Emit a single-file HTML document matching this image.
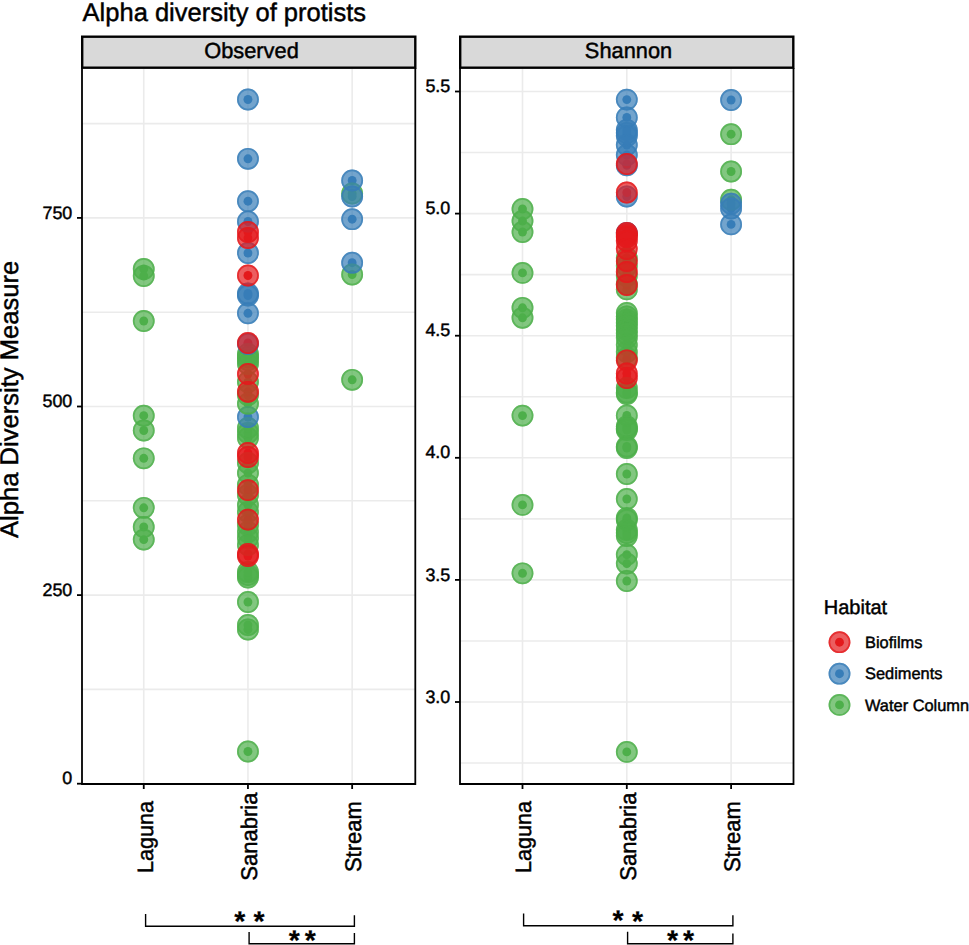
<!DOCTYPE html>
<html><head><meta charset="utf-8"><style>
html,body{margin:0;padding:0;background:#fff;}
svg{display:block;}
text{font-family:"Liberation Sans",sans-serif;fill:#000;stroke:#000;stroke-width:0.45px;text-rendering:geometricPrecision;}
.gm{stroke:#EBEBEB;stroke-width:1.6;}
.gM{stroke:#EBEBEB;stroke-width:1.6;}
.yt{font-size:17.9px;text-anchor:end;}
.xt{font-size:22.0px;text-anchor:middle;}
.br{fill:none;stroke:#000;stroke-width:1.4;}
.st{font-size:28.5px;text-anchor:middle;font-weight:bold;stroke-width:0.2px;}
.lt{font-size:20px;}
.ll{font-size:16.4px;}
.pts circle,.pc{fill-opacity:0.7;}
.rg{fill:none;stroke-opacity:0.7;stroke-width:1.7;}
</style></head><body>
<svg width="969" height="945" viewBox="0 0 969 945">
<rect width="969" height="945" fill="#fff"/>
<text x="82.6" y="20.9" style="font-size:25.5px">Alpha diversity of protists</text>
<text transform="translate(17.9,399.4) rotate(-90)" style="font-size:25.6px;text-anchor:middle">Alpha Diversity Measure</text>
<g><line x1="82" y1="689.40" x2="415.3" y2="689.40" class="gm"/><line x1="82" y1="500.80" x2="415.3" y2="500.80" class="gm"/><line x1="82" y1="312.20" x2="415.3" y2="312.20" class="gm"/><line x1="82" y1="123.60" x2="415.3" y2="123.60" class="gm"/><line x1="82" y1="783.70" x2="415.3" y2="783.70" class="gM"/><line x1="82" y1="595.10" x2="415.3" y2="595.10" class="gM"/><line x1="82" y1="406.50" x2="415.3" y2="406.50" class="gM"/><line x1="82" y1="217.90" x2="415.3" y2="217.90" class="gM"/><line x1="460" y1="763.05" x2="793.5" y2="763.05" class="gm"/><line x1="460" y1="640.95" x2="793.5" y2="640.95" class="gm"/><line x1="460" y1="518.85" x2="793.5" y2="518.85" class="gm"/><line x1="460" y1="396.75" x2="793.5" y2="396.75" class="gm"/><line x1="460" y1="274.65" x2="793.5" y2="274.65" class="gm"/><line x1="460" y1="152.55" x2="793.5" y2="152.55" class="gm"/><line x1="460" y1="702.00" x2="793.5" y2="702.00" class="gM"/><line x1="460" y1="579.90" x2="793.5" y2="579.90" class="gM"/><line x1="460" y1="457.80" x2="793.5" y2="457.80" class="gM"/><line x1="460" y1="335.70" x2="793.5" y2="335.70" class="gM"/><line x1="460" y1="213.60" x2="793.5" y2="213.60" class="gM"/><line x1="460" y1="91.50" x2="793.5" y2="91.50" class="gM"/><line x1="143.75" y1="68.8" x2="143.75" y2="784.0" class="gM"/><line x1="247.95" y1="68.8" x2="247.95" y2="784.0" class="gM"/><line x1="352.15" y1="68.8" x2="352.15" y2="784.0" class="gM"/><line x1="522.5" y1="68.8" x2="522.5" y2="784.0" class="gM"/><line x1="626.8" y1="68.8" x2="626.8" y2="784.0" class="gM"/><line x1="731.1" y1="68.8" x2="731.1" y2="784.0" class="gM"/></g>
<g><circle cx="143.75" cy="269.0" r="4.45" fill="#4DAF4A"/><circle cx="143.75" cy="276.0" r="4.45" fill="#4DAF4A"/><circle cx="143.75" cy="321.0" r="4.45" fill="#4DAF4A"/><circle cx="143.75" cy="415.7" r="4.45" fill="#4DAF4A"/><circle cx="143.75" cy="430.5" r="4.45" fill="#4DAF4A"/><circle cx="143.75" cy="458.3" r="4.45" fill="#4DAF4A"/><circle cx="143.75" cy="507.8" r="4.45" fill="#4DAF4A"/><circle cx="143.75" cy="527.0" r="4.45" fill="#4DAF4A"/><circle cx="143.75" cy="539.6" r="4.45" fill="#4DAF4A"/><circle cx="247.95" cy="751.5" r="4.45" fill="#4DAF4A"/><circle cx="247.95" cy="629.5" r="4.45" fill="#4DAF4A"/><circle cx="247.95" cy="625.0" r="4.45" fill="#4DAF4A"/><circle cx="247.95" cy="602.0" r="4.45" fill="#4DAF4A"/><circle cx="247.95" cy="577.5" r="4.45" fill="#4DAF4A"/><circle cx="247.95" cy="575.0" r="4.45" fill="#4DAF4A"/><circle cx="247.95" cy="572.0" r="4.45" fill="#4DAF4A"/><circle cx="247.95" cy="545.0" r="4.45" fill="#4DAF4A"/><circle cx="247.95" cy="538.0" r="4.45" fill="#4DAF4A"/><circle cx="247.95" cy="532.0" r="4.45" fill="#4DAF4A"/><circle cx="247.95" cy="525.0" r="4.45" fill="#4DAF4A"/><circle cx="247.95" cy="512.0" r="4.45" fill="#4DAF4A"/><circle cx="247.95" cy="505.0" r="4.45" fill="#4DAF4A"/><circle cx="247.95" cy="495.0" r="4.45" fill="#4DAF4A"/><circle cx="247.95" cy="484.8" r="4.45" fill="#4DAF4A"/><circle cx="247.95" cy="473.0" r="4.45" fill="#4DAF4A"/><circle cx="247.95" cy="463.0" r="4.45" fill="#4DAF4A"/><circle cx="247.95" cy="438.0" r="4.45" fill="#4DAF4A"/><circle cx="247.95" cy="433.0" r="4.45" fill="#4DAF4A"/><circle cx="247.95" cy="428.0" r="4.45" fill="#4DAF4A"/><circle cx="247.95" cy="395.0" r="4.45" fill="#4DAF4A"/><circle cx="247.95" cy="382.0" r="4.45" fill="#4DAF4A"/><circle cx="247.95" cy="364.0" r="4.45" fill="#4DAF4A"/><circle cx="247.95" cy="360.0" r="4.45" fill="#4DAF4A"/><circle cx="247.95" cy="357.0" r="4.45" fill="#4DAF4A"/><circle cx="247.95" cy="354.0" r="4.45" fill="#4DAF4A"/><circle cx="247.95" cy="99.5" r="4.45" fill="#377EB8"/><circle cx="247.95" cy="158.8" r="4.45" fill="#377EB8"/><circle cx="247.95" cy="201.2" r="4.45" fill="#377EB8"/><circle cx="247.95" cy="221.5" r="4.45" fill="#377EB8"/><circle cx="247.95" cy="253.0" r="4.45" fill="#377EB8"/><circle cx="247.95" cy="293.5" r="4.45" fill="#377EB8"/><circle cx="247.95" cy="295.5" r="4.45" fill="#377EB8"/><circle cx="247.95" cy="313.3" r="4.45" fill="#377EB8"/><circle cx="247.95" cy="344.0" r="4.45" fill="#377EB8"/><circle cx="247.95" cy="417.0" r="4.45" fill="#377EB8"/><circle cx="247.95" cy="403.7" r="4.45" fill="#4DAF4A"/><circle cx="247.95" cy="232.0" r="4.45" fill="#E41A1C"/><circle cx="247.95" cy="238.0" r="4.45" fill="#E41A1C"/><circle cx="247.95" cy="275.5" r="4.45" fill="#E41A1C"/><circle cx="247.95" cy="343.0" r="4.45" fill="#E41A1C"/><circle cx="247.95" cy="374.0" r="4.45" fill="#E41A1C"/><circle cx="247.95" cy="391.8" r="4.45" fill="#E41A1C"/><circle cx="247.95" cy="453.0" r="4.45" fill="#E41A1C"/><circle cx="247.95" cy="457.0" r="4.45" fill="#E41A1C"/><circle cx="247.95" cy="490.1" r="4.45" fill="#E41A1C"/><circle cx="247.95" cy="519.6" r="4.45" fill="#E41A1C"/><circle cx="247.95" cy="554.0" r="4.45" fill="#E41A1C"/><circle cx="247.95" cy="556.0" r="4.45" fill="#E41A1C"/><circle cx="352.15" cy="193.5" r="4.45" fill="#4DAF4A"/><circle cx="352.15" cy="274.5" r="4.45" fill="#4DAF4A"/><circle cx="352.15" cy="379.8" r="4.45" fill="#4DAF4A"/><circle cx="352.15" cy="180.5" r="4.45" fill="#377EB8"/><circle cx="352.15" cy="196.5" r="4.45" fill="#377EB8"/><circle cx="352.15" cy="219.2" r="4.45" fill="#377EB8"/><circle cx="352.15" cy="262.7" r="4.45" fill="#377EB8"/><circle cx="522.5" cy="209.0" r="4.45" fill="#4DAF4A"/><circle cx="522.5" cy="221.0" r="4.45" fill="#4DAF4A"/><circle cx="522.5" cy="232.0" r="4.45" fill="#4DAF4A"/><circle cx="522.5" cy="272.9" r="4.45" fill="#4DAF4A"/><circle cx="522.5" cy="307.8" r="4.45" fill="#4DAF4A"/><circle cx="522.5" cy="317.8" r="4.45" fill="#4DAF4A"/><circle cx="522.5" cy="415.6" r="4.45" fill="#4DAF4A"/><circle cx="522.5" cy="504.9" r="4.45" fill="#4DAF4A"/><circle cx="522.5" cy="573.3" r="4.45" fill="#4DAF4A"/><circle cx="626.8" cy="258.0" r="4.45" fill="#4DAF4A"/><circle cx="626.8" cy="266.0" r="4.45" fill="#4DAF4A"/><circle cx="626.8" cy="276.0" r="4.45" fill="#4DAF4A"/><circle cx="626.8" cy="284.0" r="4.45" fill="#4DAF4A"/><circle cx="626.8" cy="289.4" r="4.45" fill="#4DAF4A"/><circle cx="626.8" cy="313.0" r="4.45" fill="#4DAF4A"/><circle cx="626.8" cy="316.5" r="4.45" fill="#4DAF4A"/><circle cx="626.8" cy="319.6" r="4.45" fill="#4DAF4A"/><circle cx="626.8" cy="323.0" r="4.45" fill="#4DAF4A"/><circle cx="626.8" cy="326.0" r="4.45" fill="#4DAF4A"/><circle cx="626.8" cy="330.0" r="4.45" fill="#4DAF4A"/><circle cx="626.8" cy="333.7" r="4.45" fill="#4DAF4A"/><circle cx="626.8" cy="338.0" r="4.45" fill="#4DAF4A"/><circle cx="626.8" cy="345.0" r="4.45" fill="#4DAF4A"/><circle cx="626.8" cy="352.0" r="4.45" fill="#4DAF4A"/><circle cx="626.8" cy="358.0" r="4.45" fill="#4DAF4A"/><circle cx="626.8" cy="388.0" r="4.45" fill="#4DAF4A"/><circle cx="626.8" cy="392.5" r="4.45" fill="#4DAF4A"/><circle cx="626.8" cy="394.0" r="4.45" fill="#4DAF4A"/><circle cx="626.8" cy="415.4" r="4.45" fill="#4DAF4A"/><circle cx="626.8" cy="426.5" r="4.45" fill="#4DAF4A"/><circle cx="626.8" cy="428.5" r="4.45" fill="#4DAF4A"/><circle cx="626.8" cy="430.0" r="4.45" fill="#4DAF4A"/><circle cx="626.8" cy="446.5" r="4.45" fill="#4DAF4A"/><circle cx="626.8" cy="448.0" r="4.45" fill="#4DAF4A"/><circle cx="626.8" cy="474.0" r="4.45" fill="#4DAF4A"/><circle cx="626.8" cy="499.0" r="4.45" fill="#4DAF4A"/><circle cx="626.8" cy="518.0" r="4.45" fill="#4DAF4A"/><circle cx="626.8" cy="520.0" r="4.45" fill="#4DAF4A"/><circle cx="626.8" cy="530.0" r="4.45" fill="#4DAF4A"/><circle cx="626.8" cy="533.0" r="4.45" fill="#4DAF4A"/><circle cx="626.8" cy="536.0" r="4.45" fill="#4DAF4A"/><circle cx="626.8" cy="554.7" r="4.45" fill="#4DAF4A"/><circle cx="626.8" cy="563.6" r="4.45" fill="#4DAF4A"/><circle cx="626.8" cy="581.0" r="4.45" fill="#4DAF4A"/><circle cx="626.8" cy="751.9" r="4.45" fill="#4DAF4A"/><circle cx="626.8" cy="99.6" r="4.45" fill="#377EB8"/><circle cx="626.8" cy="117.4" r="4.45" fill="#377EB8"/><circle cx="626.8" cy="130.0" r="4.45" fill="#377EB8"/><circle cx="626.8" cy="133.0" r="4.45" fill="#377EB8"/><circle cx="626.8" cy="136.0" r="4.45" fill="#377EB8"/><circle cx="626.8" cy="145.0" r="4.45" fill="#377EB8"/><circle cx="626.8" cy="155.0" r="4.45" fill="#377EB8"/><circle cx="626.8" cy="165.4" r="4.45" fill="#377EB8"/><circle cx="626.8" cy="196.5" r="4.45" fill="#377EB8"/><circle cx="626.8" cy="233.0" r="4.45" fill="#377EB8"/><circle cx="626.8" cy="164.0" r="4.45" fill="#E41A1C"/><circle cx="626.8" cy="192.5" r="4.45" fill="#E41A1C"/><circle cx="626.8" cy="233.0" r="4.45" fill="#E41A1C"/><circle cx="626.8" cy="235.0" r="4.45" fill="#E41A1C"/><circle cx="626.8" cy="237.0" r="4.45" fill="#E41A1C"/><circle cx="626.8" cy="241.0" r="4.45" fill="#E41A1C"/><circle cx="626.8" cy="249.0" r="4.45" fill="#E41A1C"/><circle cx="626.8" cy="261.0" r="4.45" fill="#E41A1C"/><circle cx="626.8" cy="272.0" r="4.45" fill="#E41A1C"/><circle cx="626.8" cy="285.0" r="4.45" fill="#E41A1C"/><circle cx="626.8" cy="360.3" r="4.45" fill="#E41A1C"/><circle cx="626.8" cy="373.5" r="4.45" fill="#E41A1C"/><circle cx="626.8" cy="378.0" r="4.45" fill="#E41A1C"/><circle cx="731.1" cy="134.2" r="4.45" fill="#4DAF4A"/><circle cx="731.1" cy="171.5" r="4.45" fill="#4DAF4A"/><circle cx="731.1" cy="199.7" r="4.45" fill="#4DAF4A"/><circle cx="731.1" cy="100.0" r="4.45" fill="#377EB8"/><circle cx="731.1" cy="203.7" r="4.45" fill="#377EB8"/><circle cx="731.1" cy="208.5" r="4.45" fill="#377EB8"/><circle cx="731.1" cy="224.4" r="4.45" fill="#377EB8"/></g>
<g class="pts"><circle cx="143.75" cy="269.0" r="10.9" fill="#4DAF4A"/><circle cx="143.75" cy="269.0" r="10.05" stroke="#4DAF4A" class="rg"/><circle cx="143.75" cy="276.0" r="10.9" fill="#4DAF4A"/><circle cx="143.75" cy="276.0" r="10.05" stroke="#4DAF4A" class="rg"/><circle cx="143.75" cy="321.0" r="10.9" fill="#4DAF4A"/><circle cx="143.75" cy="321.0" r="10.05" stroke="#4DAF4A" class="rg"/><circle cx="143.75" cy="415.7" r="10.9" fill="#4DAF4A"/><circle cx="143.75" cy="415.7" r="10.05" stroke="#4DAF4A" class="rg"/><circle cx="143.75" cy="430.5" r="10.9" fill="#4DAF4A"/><circle cx="143.75" cy="430.5" r="10.05" stroke="#4DAF4A" class="rg"/><circle cx="143.75" cy="458.3" r="10.9" fill="#4DAF4A"/><circle cx="143.75" cy="458.3" r="10.05" stroke="#4DAF4A" class="rg"/><circle cx="143.75" cy="507.8" r="10.9" fill="#4DAF4A"/><circle cx="143.75" cy="507.8" r="10.05" stroke="#4DAF4A" class="rg"/><circle cx="143.75" cy="527.0" r="10.9" fill="#4DAF4A"/><circle cx="143.75" cy="527.0" r="10.05" stroke="#4DAF4A" class="rg"/><circle cx="143.75" cy="539.6" r="10.9" fill="#4DAF4A"/><circle cx="143.75" cy="539.6" r="10.05" stroke="#4DAF4A" class="rg"/><circle cx="247.95" cy="751.5" r="10.9" fill="#4DAF4A"/><circle cx="247.95" cy="751.5" r="10.05" stroke="#4DAF4A" class="rg"/><circle cx="247.95" cy="629.5" r="10.9" fill="#4DAF4A"/><circle cx="247.95" cy="629.5" r="10.05" stroke="#4DAF4A" class="rg"/><circle cx="247.95" cy="625.0" r="10.9" fill="#4DAF4A"/><circle cx="247.95" cy="625.0" r="10.05" stroke="#4DAF4A" class="rg"/><circle cx="247.95" cy="602.0" r="10.9" fill="#4DAF4A"/><circle cx="247.95" cy="602.0" r="10.05" stroke="#4DAF4A" class="rg"/><circle cx="247.95" cy="577.5" r="10.9" fill="#4DAF4A"/><circle cx="247.95" cy="577.5" r="10.05" stroke="#4DAF4A" class="rg"/><circle cx="247.95" cy="575.0" r="10.9" fill="#4DAF4A"/><circle cx="247.95" cy="575.0" r="10.05" stroke="#4DAF4A" class="rg"/><circle cx="247.95" cy="572.0" r="10.9" fill="#4DAF4A"/><circle cx="247.95" cy="572.0" r="10.05" stroke="#4DAF4A" class="rg"/><circle cx="247.95" cy="545.0" r="10.9" fill="#4DAF4A"/><circle cx="247.95" cy="545.0" r="10.05" stroke="#4DAF4A" class="rg"/><circle cx="247.95" cy="538.0" r="10.9" fill="#4DAF4A"/><circle cx="247.95" cy="538.0" r="10.05" stroke="#4DAF4A" class="rg"/><circle cx="247.95" cy="532.0" r="10.9" fill="#4DAF4A"/><circle cx="247.95" cy="532.0" r="10.05" stroke="#4DAF4A" class="rg"/><circle cx="247.95" cy="525.0" r="10.9" fill="#4DAF4A"/><circle cx="247.95" cy="525.0" r="10.05" stroke="#4DAF4A" class="rg"/><circle cx="247.95" cy="512.0" r="10.9" fill="#4DAF4A"/><circle cx="247.95" cy="512.0" r="10.05" stroke="#4DAF4A" class="rg"/><circle cx="247.95" cy="505.0" r="10.9" fill="#4DAF4A"/><circle cx="247.95" cy="505.0" r="10.05" stroke="#4DAF4A" class="rg"/><circle cx="247.95" cy="495.0" r="10.9" fill="#4DAF4A"/><circle cx="247.95" cy="495.0" r="10.05" stroke="#4DAF4A" class="rg"/><circle cx="247.95" cy="484.8" r="10.9" fill="#4DAF4A"/><circle cx="247.95" cy="484.8" r="10.05" stroke="#4DAF4A" class="rg"/><circle cx="247.95" cy="473.0" r="10.9" fill="#4DAF4A"/><circle cx="247.95" cy="473.0" r="10.05" stroke="#4DAF4A" class="rg"/><circle cx="247.95" cy="463.0" r="10.9" fill="#4DAF4A"/><circle cx="247.95" cy="463.0" r="10.05" stroke="#4DAF4A" class="rg"/><circle cx="247.95" cy="438.0" r="10.9" fill="#4DAF4A"/><circle cx="247.95" cy="438.0" r="10.05" stroke="#4DAF4A" class="rg"/><circle cx="247.95" cy="433.0" r="10.9" fill="#4DAF4A"/><circle cx="247.95" cy="433.0" r="10.05" stroke="#4DAF4A" class="rg"/><circle cx="247.95" cy="428.0" r="10.9" fill="#4DAF4A"/><circle cx="247.95" cy="428.0" r="10.05" stroke="#4DAF4A" class="rg"/><circle cx="247.95" cy="395.0" r="10.9" fill="#4DAF4A"/><circle cx="247.95" cy="395.0" r="10.05" stroke="#4DAF4A" class="rg"/><circle cx="247.95" cy="382.0" r="10.9" fill="#4DAF4A"/><circle cx="247.95" cy="382.0" r="10.05" stroke="#4DAF4A" class="rg"/><circle cx="247.95" cy="364.0" r="10.9" fill="#4DAF4A"/><circle cx="247.95" cy="364.0" r="10.05" stroke="#4DAF4A" class="rg"/><circle cx="247.95" cy="360.0" r="10.9" fill="#4DAF4A"/><circle cx="247.95" cy="360.0" r="10.05" stroke="#4DAF4A" class="rg"/><circle cx="247.95" cy="357.0" r="10.9" fill="#4DAF4A"/><circle cx="247.95" cy="357.0" r="10.05" stroke="#4DAF4A" class="rg"/><circle cx="247.95" cy="354.0" r="10.9" fill="#4DAF4A"/><circle cx="247.95" cy="354.0" r="10.05" stroke="#4DAF4A" class="rg"/><circle cx="247.95" cy="99.5" r="10.9" fill="#377EB8"/><circle cx="247.95" cy="99.5" r="10.05" stroke="#377EB8" class="rg"/><circle cx="247.95" cy="158.8" r="10.9" fill="#377EB8"/><circle cx="247.95" cy="158.8" r="10.05" stroke="#377EB8" class="rg"/><circle cx="247.95" cy="201.2" r="10.9" fill="#377EB8"/><circle cx="247.95" cy="201.2" r="10.05" stroke="#377EB8" class="rg"/><circle cx="247.95" cy="221.5" r="10.9" fill="#377EB8"/><circle cx="247.95" cy="221.5" r="10.05" stroke="#377EB8" class="rg"/><circle cx="247.95" cy="253.0" r="10.9" fill="#377EB8"/><circle cx="247.95" cy="253.0" r="10.05" stroke="#377EB8" class="rg"/><circle cx="247.95" cy="293.5" r="10.9" fill="#377EB8"/><circle cx="247.95" cy="293.5" r="10.05" stroke="#377EB8" class="rg"/><circle cx="247.95" cy="295.5" r="10.9" fill="#377EB8"/><circle cx="247.95" cy="295.5" r="10.05" stroke="#377EB8" class="rg"/><circle cx="247.95" cy="313.3" r="10.9" fill="#377EB8"/><circle cx="247.95" cy="313.3" r="10.05" stroke="#377EB8" class="rg"/><circle cx="247.95" cy="344.0" r="10.9" fill="#377EB8"/><circle cx="247.95" cy="344.0" r="10.05" stroke="#377EB8" class="rg"/><circle cx="247.95" cy="417.0" r="10.9" fill="#377EB8"/><circle cx="247.95" cy="417.0" r="10.05" stroke="#377EB8" class="rg"/><circle cx="247.95" cy="403.7" r="10.9" fill="#4DAF4A"/><circle cx="247.95" cy="403.7" r="10.05" stroke="#4DAF4A" class="rg"/><circle cx="247.95" cy="232.0" r="10.9" fill="#E41A1C"/><circle cx="247.95" cy="232.0" r="10.05" stroke="#E41A1C" class="rg"/><circle cx="247.95" cy="238.0" r="10.9" fill="#E41A1C"/><circle cx="247.95" cy="238.0" r="10.05" stroke="#E41A1C" class="rg"/><circle cx="247.95" cy="275.5" r="10.9" fill="#E41A1C"/><circle cx="247.95" cy="275.5" r="10.05" stroke="#E41A1C" class="rg"/><circle cx="247.95" cy="343.0" r="10.9" fill="#E41A1C"/><circle cx="247.95" cy="343.0" r="10.05" stroke="#E41A1C" class="rg"/><circle cx="247.95" cy="374.0" r="10.9" fill="#E41A1C"/><circle cx="247.95" cy="374.0" r="10.05" stroke="#E41A1C" class="rg"/><circle cx="247.95" cy="391.8" r="10.9" fill="#E41A1C"/><circle cx="247.95" cy="391.8" r="10.05" stroke="#E41A1C" class="rg"/><circle cx="247.95" cy="453.0" r="10.9" fill="#E41A1C"/><circle cx="247.95" cy="453.0" r="10.05" stroke="#E41A1C" class="rg"/><circle cx="247.95" cy="457.0" r="10.9" fill="#E41A1C"/><circle cx="247.95" cy="457.0" r="10.05" stroke="#E41A1C" class="rg"/><circle cx="247.95" cy="490.1" r="10.9" fill="#E41A1C"/><circle cx="247.95" cy="490.1" r="10.05" stroke="#E41A1C" class="rg"/><circle cx="247.95" cy="519.6" r="10.9" fill="#E41A1C"/><circle cx="247.95" cy="519.6" r="10.05" stroke="#E41A1C" class="rg"/><circle cx="247.95" cy="554.0" r="10.9" fill="#E41A1C"/><circle cx="247.95" cy="554.0" r="10.05" stroke="#E41A1C" class="rg"/><circle cx="247.95" cy="556.0" r="10.9" fill="#E41A1C"/><circle cx="247.95" cy="556.0" r="10.05" stroke="#E41A1C" class="rg"/><circle cx="352.15" cy="193.5" r="10.9" fill="#4DAF4A"/><circle cx="352.15" cy="193.5" r="10.05" stroke="#4DAF4A" class="rg"/><circle cx="352.15" cy="274.5" r="10.9" fill="#4DAF4A"/><circle cx="352.15" cy="274.5" r="10.05" stroke="#4DAF4A" class="rg"/><circle cx="352.15" cy="379.8" r="10.9" fill="#4DAF4A"/><circle cx="352.15" cy="379.8" r="10.05" stroke="#4DAF4A" class="rg"/><circle cx="352.15" cy="180.5" r="10.9" fill="#377EB8"/><circle cx="352.15" cy="180.5" r="10.05" stroke="#377EB8" class="rg"/><circle cx="352.15" cy="196.5" r="10.9" fill="#377EB8"/><circle cx="352.15" cy="196.5" r="10.05" stroke="#377EB8" class="rg"/><circle cx="352.15" cy="219.2" r="10.9" fill="#377EB8"/><circle cx="352.15" cy="219.2" r="10.05" stroke="#377EB8" class="rg"/><circle cx="352.15" cy="262.7" r="10.9" fill="#377EB8"/><circle cx="352.15" cy="262.7" r="10.05" stroke="#377EB8" class="rg"/><circle cx="522.5" cy="209.0" r="10.9" fill="#4DAF4A"/><circle cx="522.5" cy="209.0" r="10.05" stroke="#4DAF4A" class="rg"/><circle cx="522.5" cy="221.0" r="10.9" fill="#4DAF4A"/><circle cx="522.5" cy="221.0" r="10.05" stroke="#4DAF4A" class="rg"/><circle cx="522.5" cy="232.0" r="10.9" fill="#4DAF4A"/><circle cx="522.5" cy="232.0" r="10.05" stroke="#4DAF4A" class="rg"/><circle cx="522.5" cy="272.9" r="10.9" fill="#4DAF4A"/><circle cx="522.5" cy="272.9" r="10.05" stroke="#4DAF4A" class="rg"/><circle cx="522.5" cy="307.8" r="10.9" fill="#4DAF4A"/><circle cx="522.5" cy="307.8" r="10.05" stroke="#4DAF4A" class="rg"/><circle cx="522.5" cy="317.8" r="10.9" fill="#4DAF4A"/><circle cx="522.5" cy="317.8" r="10.05" stroke="#4DAF4A" class="rg"/><circle cx="522.5" cy="415.6" r="10.9" fill="#4DAF4A"/><circle cx="522.5" cy="415.6" r="10.05" stroke="#4DAF4A" class="rg"/><circle cx="522.5" cy="504.9" r="10.9" fill="#4DAF4A"/><circle cx="522.5" cy="504.9" r="10.05" stroke="#4DAF4A" class="rg"/><circle cx="522.5" cy="573.3" r="10.9" fill="#4DAF4A"/><circle cx="522.5" cy="573.3" r="10.05" stroke="#4DAF4A" class="rg"/><circle cx="626.8" cy="258.0" r="10.9" fill="#4DAF4A"/><circle cx="626.8" cy="258.0" r="10.05" stroke="#4DAF4A" class="rg"/><circle cx="626.8" cy="266.0" r="10.9" fill="#4DAF4A"/><circle cx="626.8" cy="266.0" r="10.05" stroke="#4DAF4A" class="rg"/><circle cx="626.8" cy="276.0" r="10.9" fill="#4DAF4A"/><circle cx="626.8" cy="276.0" r="10.05" stroke="#4DAF4A" class="rg"/><circle cx="626.8" cy="284.0" r="10.9" fill="#4DAF4A"/><circle cx="626.8" cy="284.0" r="10.05" stroke="#4DAF4A" class="rg"/><circle cx="626.8" cy="289.4" r="10.9" fill="#4DAF4A"/><circle cx="626.8" cy="289.4" r="10.05" stroke="#4DAF4A" class="rg"/><circle cx="626.8" cy="313.0" r="10.9" fill="#4DAF4A"/><circle cx="626.8" cy="313.0" r="10.05" stroke="#4DAF4A" class="rg"/><circle cx="626.8" cy="316.5" r="10.9" fill="#4DAF4A"/><circle cx="626.8" cy="316.5" r="10.05" stroke="#4DAF4A" class="rg"/><circle cx="626.8" cy="319.6" r="10.9" fill="#4DAF4A"/><circle cx="626.8" cy="319.6" r="10.05" stroke="#4DAF4A" class="rg"/><circle cx="626.8" cy="323.0" r="10.9" fill="#4DAF4A"/><circle cx="626.8" cy="323.0" r="10.05" stroke="#4DAF4A" class="rg"/><circle cx="626.8" cy="326.0" r="10.9" fill="#4DAF4A"/><circle cx="626.8" cy="326.0" r="10.05" stroke="#4DAF4A" class="rg"/><circle cx="626.8" cy="330.0" r="10.9" fill="#4DAF4A"/><circle cx="626.8" cy="330.0" r="10.05" stroke="#4DAF4A" class="rg"/><circle cx="626.8" cy="333.7" r="10.9" fill="#4DAF4A"/><circle cx="626.8" cy="333.7" r="10.05" stroke="#4DAF4A" class="rg"/><circle cx="626.8" cy="338.0" r="10.9" fill="#4DAF4A"/><circle cx="626.8" cy="338.0" r="10.05" stroke="#4DAF4A" class="rg"/><circle cx="626.8" cy="345.0" r="10.9" fill="#4DAF4A"/><circle cx="626.8" cy="345.0" r="10.05" stroke="#4DAF4A" class="rg"/><circle cx="626.8" cy="352.0" r="10.9" fill="#4DAF4A"/><circle cx="626.8" cy="352.0" r="10.05" stroke="#4DAF4A" class="rg"/><circle cx="626.8" cy="358.0" r="10.9" fill="#4DAF4A"/><circle cx="626.8" cy="358.0" r="10.05" stroke="#4DAF4A" class="rg"/><circle cx="626.8" cy="388.0" r="10.9" fill="#4DAF4A"/><circle cx="626.8" cy="388.0" r="10.05" stroke="#4DAF4A" class="rg"/><circle cx="626.8" cy="392.5" r="10.9" fill="#4DAF4A"/><circle cx="626.8" cy="392.5" r="10.05" stroke="#4DAF4A" class="rg"/><circle cx="626.8" cy="394.0" r="10.9" fill="#4DAF4A"/><circle cx="626.8" cy="394.0" r="10.05" stroke="#4DAF4A" class="rg"/><circle cx="626.8" cy="415.4" r="10.9" fill="#4DAF4A"/><circle cx="626.8" cy="415.4" r="10.05" stroke="#4DAF4A" class="rg"/><circle cx="626.8" cy="426.5" r="10.9" fill="#4DAF4A"/><circle cx="626.8" cy="426.5" r="10.05" stroke="#4DAF4A" class="rg"/><circle cx="626.8" cy="428.5" r="10.9" fill="#4DAF4A"/><circle cx="626.8" cy="428.5" r="10.05" stroke="#4DAF4A" class="rg"/><circle cx="626.8" cy="430.0" r="10.9" fill="#4DAF4A"/><circle cx="626.8" cy="430.0" r="10.05" stroke="#4DAF4A" class="rg"/><circle cx="626.8" cy="446.5" r="10.9" fill="#4DAF4A"/><circle cx="626.8" cy="446.5" r="10.05" stroke="#4DAF4A" class="rg"/><circle cx="626.8" cy="448.0" r="10.9" fill="#4DAF4A"/><circle cx="626.8" cy="448.0" r="10.05" stroke="#4DAF4A" class="rg"/><circle cx="626.8" cy="474.0" r="10.9" fill="#4DAF4A"/><circle cx="626.8" cy="474.0" r="10.05" stroke="#4DAF4A" class="rg"/><circle cx="626.8" cy="499.0" r="10.9" fill="#4DAF4A"/><circle cx="626.8" cy="499.0" r="10.05" stroke="#4DAF4A" class="rg"/><circle cx="626.8" cy="518.0" r="10.9" fill="#4DAF4A"/><circle cx="626.8" cy="518.0" r="10.05" stroke="#4DAF4A" class="rg"/><circle cx="626.8" cy="520.0" r="10.9" fill="#4DAF4A"/><circle cx="626.8" cy="520.0" r="10.05" stroke="#4DAF4A" class="rg"/><circle cx="626.8" cy="530.0" r="10.9" fill="#4DAF4A"/><circle cx="626.8" cy="530.0" r="10.05" stroke="#4DAF4A" class="rg"/><circle cx="626.8" cy="533.0" r="10.9" fill="#4DAF4A"/><circle cx="626.8" cy="533.0" r="10.05" stroke="#4DAF4A" class="rg"/><circle cx="626.8" cy="536.0" r="10.9" fill="#4DAF4A"/><circle cx="626.8" cy="536.0" r="10.05" stroke="#4DAF4A" class="rg"/><circle cx="626.8" cy="554.7" r="10.9" fill="#4DAF4A"/><circle cx="626.8" cy="554.7" r="10.05" stroke="#4DAF4A" class="rg"/><circle cx="626.8" cy="563.6" r="10.9" fill="#4DAF4A"/><circle cx="626.8" cy="563.6" r="10.05" stroke="#4DAF4A" class="rg"/><circle cx="626.8" cy="581.0" r="10.9" fill="#4DAF4A"/><circle cx="626.8" cy="581.0" r="10.05" stroke="#4DAF4A" class="rg"/><circle cx="626.8" cy="751.9" r="10.9" fill="#4DAF4A"/><circle cx="626.8" cy="751.9" r="10.05" stroke="#4DAF4A" class="rg"/><circle cx="626.8" cy="99.6" r="10.9" fill="#377EB8"/><circle cx="626.8" cy="99.6" r="10.05" stroke="#377EB8" class="rg"/><circle cx="626.8" cy="117.4" r="10.9" fill="#377EB8"/><circle cx="626.8" cy="117.4" r="10.05" stroke="#377EB8" class="rg"/><circle cx="626.8" cy="130.0" r="10.9" fill="#377EB8"/><circle cx="626.8" cy="130.0" r="10.05" stroke="#377EB8" class="rg"/><circle cx="626.8" cy="133.0" r="10.9" fill="#377EB8"/><circle cx="626.8" cy="133.0" r="10.05" stroke="#377EB8" class="rg"/><circle cx="626.8" cy="136.0" r="10.9" fill="#377EB8"/><circle cx="626.8" cy="136.0" r="10.05" stroke="#377EB8" class="rg"/><circle cx="626.8" cy="145.0" r="10.9" fill="#377EB8"/><circle cx="626.8" cy="145.0" r="10.05" stroke="#377EB8" class="rg"/><circle cx="626.8" cy="155.0" r="10.9" fill="#377EB8"/><circle cx="626.8" cy="155.0" r="10.05" stroke="#377EB8" class="rg"/><circle cx="626.8" cy="165.4" r="10.9" fill="#377EB8"/><circle cx="626.8" cy="165.4" r="10.05" stroke="#377EB8" class="rg"/><circle cx="626.8" cy="196.5" r="10.9" fill="#377EB8"/><circle cx="626.8" cy="196.5" r="10.05" stroke="#377EB8" class="rg"/><circle cx="626.8" cy="233.0" r="10.9" fill="#377EB8"/><circle cx="626.8" cy="233.0" r="10.05" stroke="#377EB8" class="rg"/><circle cx="626.8" cy="164.0" r="10.9" fill="#E41A1C"/><circle cx="626.8" cy="164.0" r="10.05" stroke="#E41A1C" class="rg"/><circle cx="626.8" cy="192.5" r="10.9" fill="#E41A1C"/><circle cx="626.8" cy="192.5" r="10.05" stroke="#E41A1C" class="rg"/><circle cx="626.8" cy="233.0" r="10.9" fill="#E41A1C"/><circle cx="626.8" cy="233.0" r="10.05" stroke="#E41A1C" class="rg"/><circle cx="626.8" cy="235.0" r="10.9" fill="#E41A1C"/><circle cx="626.8" cy="235.0" r="10.05" stroke="#E41A1C" class="rg"/><circle cx="626.8" cy="237.0" r="10.9" fill="#E41A1C"/><circle cx="626.8" cy="237.0" r="10.05" stroke="#E41A1C" class="rg"/><circle cx="626.8" cy="241.0" r="10.9" fill="#E41A1C"/><circle cx="626.8" cy="241.0" r="10.05" stroke="#E41A1C" class="rg"/><circle cx="626.8" cy="249.0" r="10.9" fill="#E41A1C"/><circle cx="626.8" cy="249.0" r="10.05" stroke="#E41A1C" class="rg"/><circle cx="626.8" cy="261.0" r="10.9" fill="#E41A1C"/><circle cx="626.8" cy="261.0" r="10.05" stroke="#E41A1C" class="rg"/><circle cx="626.8" cy="272.0" r="10.9" fill="#E41A1C"/><circle cx="626.8" cy="272.0" r="10.05" stroke="#E41A1C" class="rg"/><circle cx="626.8" cy="285.0" r="10.9" fill="#E41A1C"/><circle cx="626.8" cy="285.0" r="10.05" stroke="#E41A1C" class="rg"/><circle cx="626.8" cy="360.3" r="10.9" fill="#E41A1C"/><circle cx="626.8" cy="360.3" r="10.05" stroke="#E41A1C" class="rg"/><circle cx="626.8" cy="373.5" r="10.9" fill="#E41A1C"/><circle cx="626.8" cy="373.5" r="10.05" stroke="#E41A1C" class="rg"/><circle cx="626.8" cy="378.0" r="10.9" fill="#E41A1C"/><circle cx="626.8" cy="378.0" r="10.05" stroke="#E41A1C" class="rg"/><circle cx="731.1" cy="134.2" r="10.9" fill="#4DAF4A"/><circle cx="731.1" cy="134.2" r="10.05" stroke="#4DAF4A" class="rg"/><circle cx="731.1" cy="171.5" r="10.9" fill="#4DAF4A"/><circle cx="731.1" cy="171.5" r="10.05" stroke="#4DAF4A" class="rg"/><circle cx="731.1" cy="199.7" r="10.9" fill="#4DAF4A"/><circle cx="731.1" cy="199.7" r="10.05" stroke="#4DAF4A" class="rg"/><circle cx="731.1" cy="100.0" r="10.9" fill="#377EB8"/><circle cx="731.1" cy="100.0" r="10.05" stroke="#377EB8" class="rg"/><circle cx="731.1" cy="203.7" r="10.9" fill="#377EB8"/><circle cx="731.1" cy="203.7" r="10.05" stroke="#377EB8" class="rg"/><circle cx="731.1" cy="208.5" r="10.9" fill="#377EB8"/><circle cx="731.1" cy="208.5" r="10.05" stroke="#377EB8" class="rg"/><circle cx="731.1" cy="224.4" r="10.9" fill="#377EB8"/><circle cx="731.1" cy="224.4" r="10.05" stroke="#377EB8" class="rg"/></g>
<g stroke="#000" stroke-width="1.8" fill="none">
<path d="M82,68 V784 H415.3 V68"/>
<path d="M460,68 V784 H793.5 V68"/>
</g>
<g stroke="#000" stroke-width="1.8"><line x1="77" y1="783.70" x2="82" y2="783.70"/><line x1="77" y1="595.10" x2="82" y2="595.10"/><line x1="77" y1="406.50" x2="82" y2="406.50"/><line x1="77" y1="217.90" x2="82" y2="217.90"/><line x1="455" y1="702.00" x2="460" y2="702.00"/><line x1="455" y1="579.90" x2="460" y2="579.90"/><line x1="455" y1="457.80" x2="460" y2="457.80"/><line x1="455" y1="335.70" x2="460" y2="335.70"/><line x1="455" y1="213.60" x2="460" y2="213.60"/><line x1="455" y1="91.50" x2="460" y2="91.50"/><line x1="143.75" y1="784" x2="143.75" y2="789"/><line x1="247.95" y1="784" x2="247.95" y2="789"/><line x1="352.15" y1="784" x2="352.15" y2="789"/><line x1="522.5" y1="784" x2="522.5" y2="789"/><line x1="626.8" y1="784" x2="626.8" y2="789"/><line x1="731.1" y1="784" x2="731.1" y2="789"/></g>
<rect x="82.2" y="36.7" width="333.1" height="31" fill="#D9D9D9" stroke="#000" stroke-width="2.4"/>
<rect x="460.2" y="36.7" width="333.1" height="31" fill="#D9D9D9" stroke="#000" stroke-width="2.4"/>
<text x="251.5" y="58.4" style="font-size:21.8px;text-anchor:middle">Observed</text>
<text x="628.5" y="58.4" style="font-size:21.8px;text-anchor:middle">Shannon</text>
<g><text x="72.3" y="784.30" class="yt">0</text><text x="72.3" y="595.70" class="yt">250</text><text x="72.3" y="407.10" class="yt">500</text><text x="72.3" y="218.50" class="yt">750</text><text x="450.3" y="702.60" class="yt">3.0</text><text x="450.3" y="580.50" class="yt">3.5</text><text x="450.3" y="458.40" class="yt">4.0</text><text x="450.3" y="336.30" class="yt">4.5</text><text x="450.3" y="214.20" class="yt">5.0</text><text x="450.3" y="92.10" class="yt">5.5</text><text transform="translate(152.6,837.0) rotate(-90) scale(1,1.03)" class="xt" style="font-size:21.6px">Laguna</text><text transform="translate(256.8,836.6) rotate(-90) scale(1,1.03)" class="xt">Sanabria</text><text transform="translate(360.9,836.6) rotate(-90) scale(1,1.03)" class="xt">Stream</text><text transform="translate(531.3,837.0) rotate(-90) scale(1,1.03)" class="xt" style="font-size:21.6px">Laguna</text><text transform="translate(635.6,836.6) rotate(-90) scale(1,1.03)" class="xt">Sanabria</text><text transform="translate(739.9,836.6) rotate(-90) scale(1,1.03)" class="xt">Stream</text></g>
<g><path d="M145.6,914 V926.2 H354.4 V915.2" class="br"/><path d="M249.1,932.1 V943.7 H354.4 V932.9" class="br"/><path d="M523.6,913.6 V925.7 H732.9 V915.3" class="br"/><path d="M627.6,931.7 V943.7 H732.9 V933.4" class="br"/></g>
<g><text x="239.7" y="930.7" class="st">*</text><text x="259" y="931.4" class="st">*</text><text x="294.2" y="950.3" class="st">*</text><text x="310.4" y="950.3" class="st">*</text><text x="618" y="930.1" class="st">*</text><text x="637.6" y="931.0" class="st">*</text><text x="672.5" y="950.3" class="st">*</text><text x="688.5" y="950.3" class="st">*</text></g>
<text x="823.8" y="614.3" class="lt">Habitat</text>
<circle cx="839.5" cy="642.2" r="4.45" fill="#E41A1C"/><circle cx="839.5" cy="642.2" r="10.9" fill="#E41A1C" class="pc"/><circle cx="839.5" cy="642.2" r="10.05" stroke="#E41A1C" class="rg"/>
<circle cx="839.5" cy="673.7" r="4.45" fill="#377EB8"/><circle cx="839.5" cy="673.7" r="10.9" fill="#377EB8" class="pc"/><circle cx="839.5" cy="673.7" r="10.05" stroke="#377EB8" class="rg"/>
<circle cx="839.5" cy="704.9" r="4.45" fill="#4DAF4A"/><circle cx="839.5" cy="704.9" r="10.9" fill="#4DAF4A" class="pc"/><circle cx="839.5" cy="704.9" r="10.05" stroke="#4DAF4A" class="rg"/>
<text x="865" y="647.8" class="ll">Biofilms</text>
<text x="865" y="679.4" class="ll">Sediments</text>
<text x="865" y="711" class="ll">Water Column</text>
</svg>
</body></html>
